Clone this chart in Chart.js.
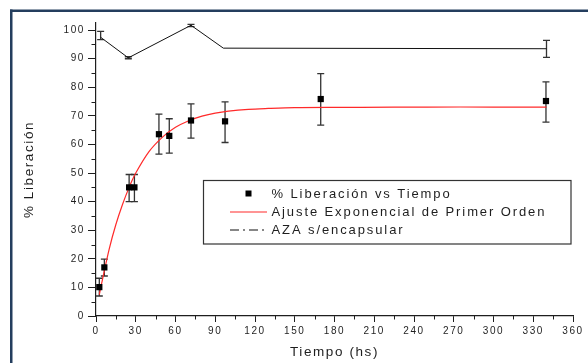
<!DOCTYPE html>
<html>
<head>
<meta charset="utf-8">
<script src="https://cdn.jsdelivr.net/npm/chart.js"></script>
<style>
  html, body { margin: 0; padding: 0; background: #fff; }
  #wrap { width: 588px; height: 363px; }
</style>
</head>
<body>
<div id="wrap"><canvas id="c" width="588" height="363"></canvas></div>
<script>
// ---------------------
// Data
// ---------------------
const libTime = [2.5, 6.3, 25, 29, 47.5, 55.3, 71.7, 97.4, 169.6, 339.6];
const libValue = [10.1, 17, 45, 45, 63.6, 63, 68.4, 68.1, 75.9, 75.2];
const libErrLow = [7, 14, 40, 40, 56.6, 57, 62.2, 60.7, 66.8, 67.8];
const libErrHigh = [13.2, 19.9, 49.5, 49.5, 70.6, 69, 74.2, 74.9, 84.8, 81.9];

const fitTime = [2.5, 5, 10, 15, 20, 25, 30, 40, 50, 60, 70, 80, 90, 100, 115, 130, 150, 175, 200, 250, 300, 340];
const fitValue = [7.5, 13, 23.5, 32, 39, 45, 50, 57.5, 62.5, 66, 68.3, 69.9, 71, 71.7, 72.3, 72.6, 72.9, 73, 73, 73.1, 73.1, 73.1];

const azaTime = [3.5, 24.4, 71.7, 96.1, 340];
const azaValue = [97.5, 90.3, 101.7, 93.7, 93.5];
const azaErrLow = [96.7, 90.0, 101.2, null, 90.5];
const azaErrHigh = [99.6, 90.7, 102.0, null, 96.4];

const xTicks = [0, 30, 60, 90, 120, 150, 180, 210, 240, 270, 300, 330, 360];
const yTicks = [0, 10, 20, 30, 40, 50, 60, 70, 80, 90, 100];

const seriesLabels = ['% Liberación vs Tiempo', 'Ajuste Exponencial de Primer Orden', 'AZA s/encapsular'];

const toPoints = (xs, ys) => xs.map((x, i) => ({ x: x, y: ys[i] }));
const errors = { 0: [libErrLow, libErrHigh], 2: [azaErrLow, azaErrHigh] };

const FONT = '"Liberation Sans", Arial, sans-serif';
const INK = '#1e1e1e';

// frame + letter spacing
const framePlugin = {
  id: 'frame',
  beforeDraw(chart) {
    const ctx = chart.ctx;
    ctx.save();
    ctx.fillStyle = '#fff';
    ctx.fillRect(0, 0, chart.width, chart.height);
    ctx.fillStyle = '#243e5e';
    ctx.fillRect(10, 9.5, chart.width - 10, 2.5);
    ctx.fillRect(10, 9.5, 2.5, chart.height - 9.5);
    ctx.restore();
    ctx.letterSpacing = '1.6px';
  }
};

// error bars
const errorBarPlugin = {
  id: 'errorBars',
  beforeDatasetsDraw(chart) {
    const ctx = chart.ctx;
    const xs = chart.scales.x, ys = chart.scales.y;
    ctx.save();
    ctx.strokeStyle = '#333';
    ctx.lineWidth = 1.3;
    Object.keys(errors).forEach(k => {
      const ds = chart.data.datasets[k];
      const [lo, hi] = errors[k];
      ds.data.forEach((p, i) => {
        if (lo[i] == null) return;
        const px = xs.getPixelForValue(p.x);
        const y1 = ys.getPixelForValue(lo[i]);
        const y2 = ys.getPixelForValue(hi[i]);
        ctx.beginPath();
        ctx.moveTo(px, y1); ctx.lineTo(px, y2);
        ctx.moveTo(px - 3.5, y1); ctx.lineTo(px + 3.5, y1);
        ctx.moveTo(px - 3.5, y2); ctx.lineTo(px + 3.5, y2);
        ctx.stroke();
      });
    });
    ctx.restore();
  }
};

// minor ticks + legend box
const extrasPlugin = {
  id: 'extras',
  afterDraw(chart) {
    const ctx = chart.ctx;
    const xs = chart.scales.x, ys = chart.scales.y;
    const area = chart.chartArea;
    ctx.save();
    ctx.strokeStyle = INK;
    ctx.lineWidth = 1;
    ctx.beginPath();
    for (let i = 0; i < xTicks.length - 1; i++) {
      const px = Math.round(xs.getPixelForValue((xTicks[i] + xTicks[i + 1]) / 2)) + 0.5;
      ctx.moveTo(px, area.bottom); ctx.lineTo(px, area.bottom + 3.5);
    }
    for (let i = 0; i < yTicks.length - 1; i++) {
      const py = Math.round(ys.getPixelForValue((yTicks[i] + yTicks[i + 1]) / 2)) + 0.5;
      ctx.moveTo(area.left, py); ctx.lineTo(area.left - 4.5, py);
    }
    ctx.stroke();

    // legend
    const bx = 203.5, by = 180.5, bw = 367.5, bh = 63.5;
    ctx.strokeStyle = '#333';
    ctx.lineWidth = 1.2;
    ctx.strokeRect(bx, by, bw, bh);
    ctx.font = '13px ' + FONT;
    ctx.letterSpacing = '1.9px';
    ctx.fillStyle = INK;
    ctx.textBaseline = 'middle';
    const rows = [193.5, 212, 230];
    const tx = 271.5;
    chart.data.datasets.forEach((ds, i) => {
      const ry = rows[i];
      if (i === 0) {
        ctx.fillStyle = '#000';
        ctx.fillRect(245.5, ry - 3, 6, 6);
      } else {
        ctx.beginPath();
        ctx.strokeStyle = ds.borderColor;
        ctx.lineWidth = 1.2;
        if (i === 2) ctx.setLineDash([9, 4, 2, 4]);
        ctx.moveTo(230, ry); ctx.lineTo(267, ry);
        ctx.stroke();
        ctx.setLineDash([]);
      }
      ctx.fillStyle = INK;
      ctx.fillText(ds.label, tx, ry + 0.5);
    });
    ctx.restore();
    ctx.letterSpacing = '0px';
  }
};

new Chart(document.getElementById('c'), {
  type: 'scatter',
  data: {
    datasets: [
      {
        label: seriesLabels[0],
        data: toPoints(libTime, libValue),
        showLine: false,
        pointStyle: 'rect',
        pointRadius: 4.4,
        pointBackgroundColor: '#000',
        pointBorderColor: '#000',
        pointBorderWidth: 0,
        order: 0
      },
      {
        label: seriesLabels[1],
        data: toPoints(fitTime, fitValue),
        showLine: true,
        borderColor: '#ff2a2a',
        borderWidth: 1.2,
        pointRadius: 0,
        tension: 0.3,
        order: 1
      },
      {
        label: seriesLabels[2],
        data: toPoints(azaTime, azaValue),
        showLine: true,
        borderColor: '#111',
        borderWidth: 1,
        pointRadius: 0,
        order: 2
      }
    ]
  },
  options: {
    responsive: false,
    animation: false,
    devicePixelRatio: 1,
    layout: { padding: { top: 23, right: 15, left: 0, bottom: 0 } },
    plugins: {
      legend: { display: false },
      tooltip: { enabled: false }
    },
    scales: {
      x: {
        type: 'linear',
        min: 0,
        max: 360,
        afterFit: s => { s.height = 47; },
        afterBuildTicks: s => { s.ticks = xTicks.map(v => ({ value: v })); },
        ticks: { font: { size: 10, family: FONT }, color: INK, padding: 3, maxRotation: 0, autoSkip: false },
        grid: { drawOnChartArea: false, tickLength: 6, color: INK, tickWidth: 1 },
        border: { color: INK, width: 1.2 },
        title: { display: true, text: 'Tiempo (hs)', color: INK, font: { size: 13.5, family: FONT }, padding: { top: 0, bottom: 3 } }
      },
      y: {
        type: 'linear',
        min: 0,
        max: 102.5,
        afterFit: s => { s.width = 96; },
        afterBuildTicks: s => { s.ticks = yTicks.map(v => ({ value: v })); },
        ticks: { font: { size: 10, family: FONT }, color: INK, padding: 3 },
        grid: { drawOnChartArea: false, tickLength: 8, color: INK, tickWidth: 1 },
        border: { color: INK, width: 1.2 },
        title: { display: true, text: '% Liberación', color: INK, font: { size: 13.5, family: FONT }, padding: { top: 21, bottom: 0 } }
      }
    }
  },
  plugins: [framePlugin, errorBarPlugin, extrasPlugin]
});
</script>
</body>
</html>
